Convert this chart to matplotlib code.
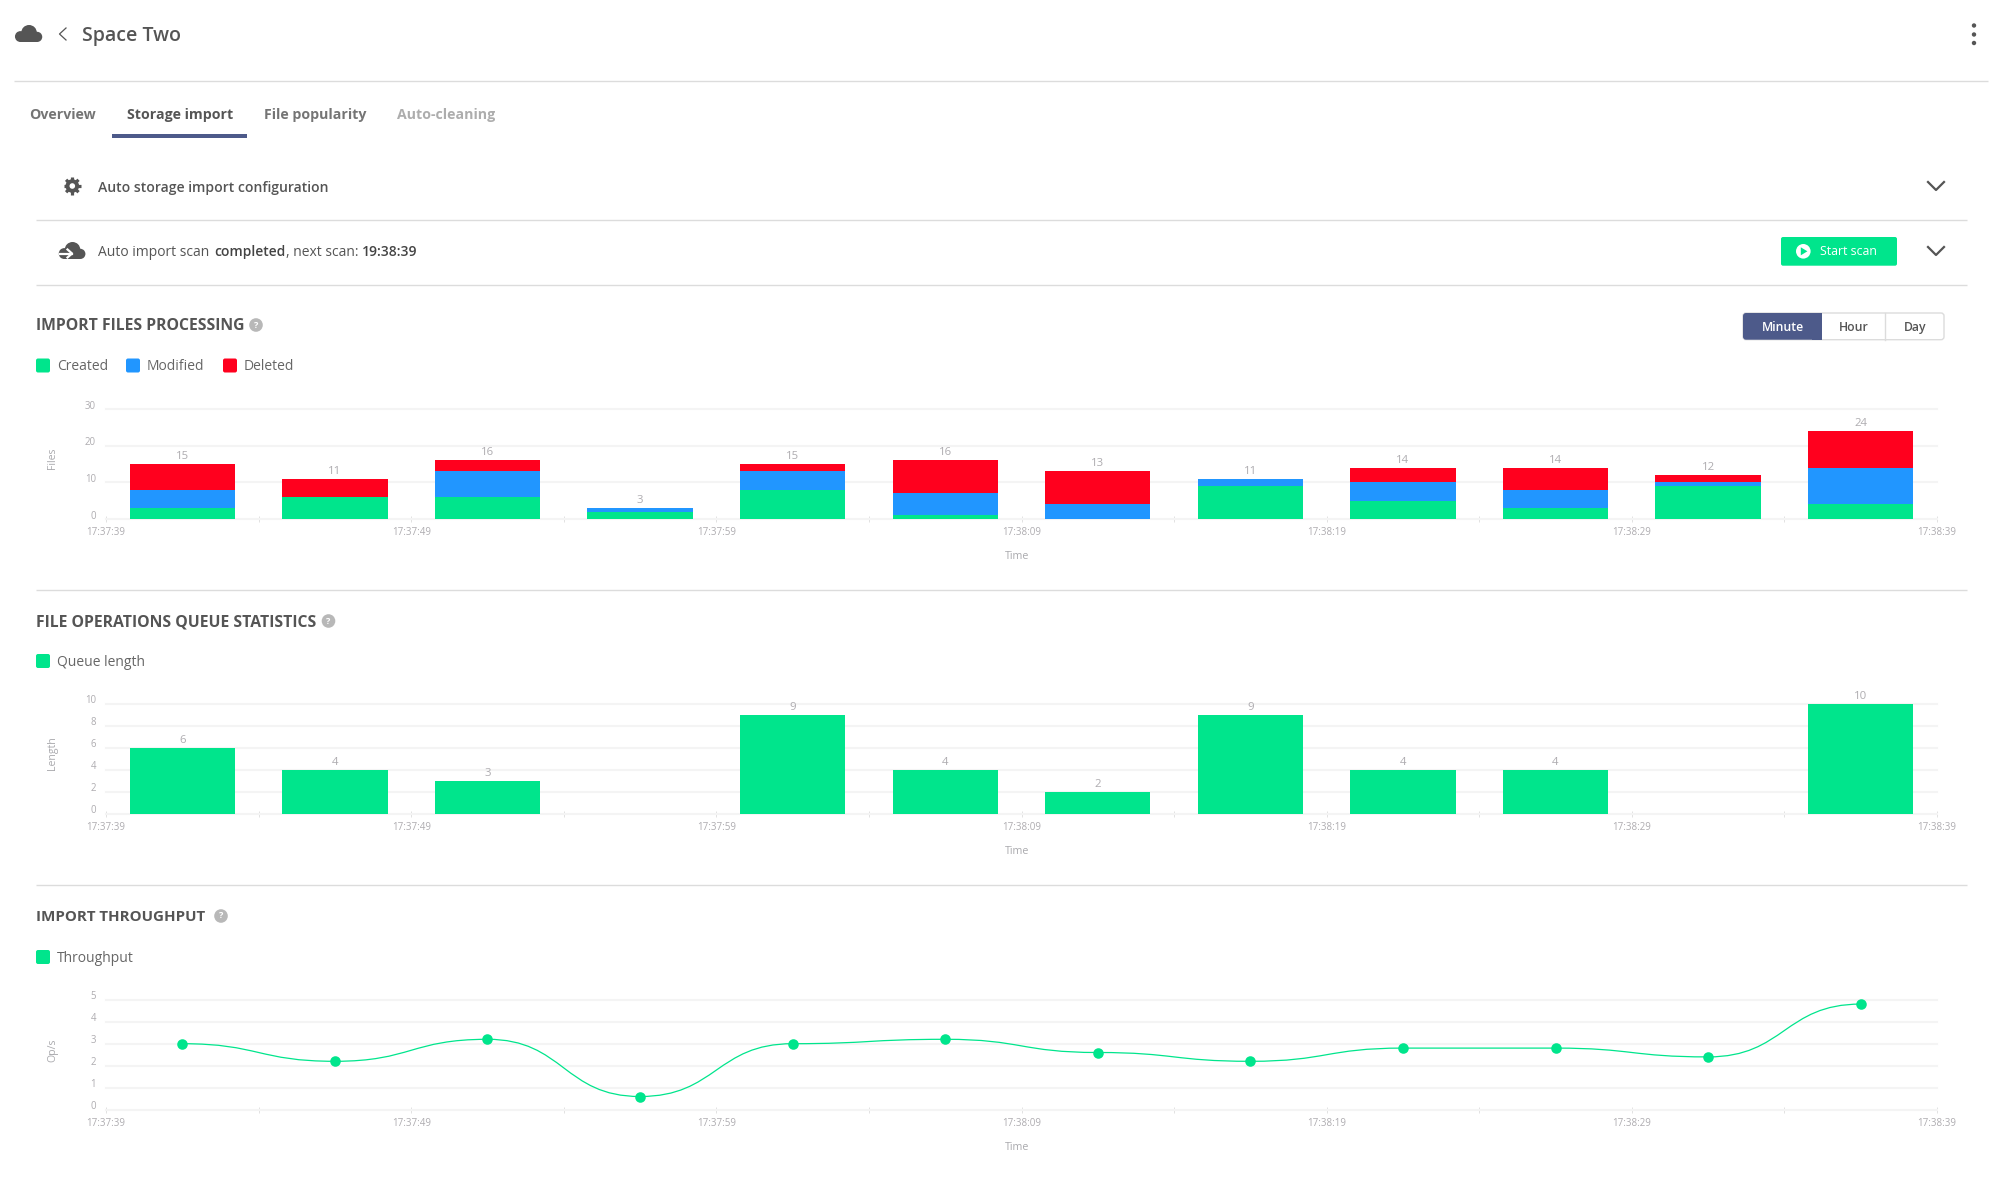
# -*- coding: utf-8 -*-
import numpy as np
import matplotlib
matplotlib.use("Agg")
import matplotlib.pyplot as plt
from matplotlib.patches import Circle, FancyBboxPatch, PathPatch, Polygon, Rectangle
from matplotlib.path import Path
from matplotlib.transforms import ScaledTranslation

plt.rcParams['font.family'] = ['Open Sans', 'DejaVu Sans']

W, H = 1998, 1189
GREEN, BLUE, RED = '#00e58c', '#2196ff', '#ff001e'
DARK = '#555555'
NAVY = '#4d5a8a'
LINE = '#dcdcdc'
GRID = '#f4f4f4'
SOFT = '#aeacb0'

# Values, one per 5 s bucket
created = [3, 6, 6, 2, 8, 1, 0, 9, 5, 3, 9, 4]
modified = [5, 0, 7, 1, 5, 6, 4, 2, 5, 5, 1, 10]
deleted = [7, 5, 3, 0, 2, 9, 9, 0, 4, 6, 2, 10]
queue = [6, 4, 3, 0, 9, 4, 2, 9, 4, 4, 0, 10]
throughput = [3.0, 2.2, 3.2, 0.6, 3.0, 3.2, 2.6, 2.2, 2.8, 2.8, 2.4, 4.8]

seconds = np.arange(2.5, 60, 5)
ticks = np.arange(0, 61, 5)
tick_labels = ['17:37:39', '', '17:37:49', '', '17:37:59', '', '17:38:09', '',
               '17:38:19', '', '17:38:29', '', '17:38:39']

fig = plt.figure(figsize=(W / 100, H / 100), dpi=100, facecolor='white')

# Page layer in pixel coordinates for everything around the charts
page = fig.add_axes([0, 0, 1, 1])
page.set_xlim(0, W)
page.set_ylim(H, 0)
page.axis('off')


def label(x, y, s, size=10, color=DARK, weight='normal', ha='left'):
    return page.text(x, y + 1.3, s, fontsize=size, color=color, fontweight=weight, ha=ha, va='center')


def hline(x0, x1, y):
    page.plot([x0, x1], [y, y], color=LINE, lw=1.0, solid_capstyle='butt')


def box(x0, y0, x1, y1, color, edge='none', r=2, z=2):
    page.add_patch(FancyBboxPatch((x0, y0), x1 - x0, y1 - y0, boxstyle='round,pad=0,rounding_size=%g' % r,
                                  fc=color, ec=edge, lw=1, zorder=z))


def cloud(x0, y0, w, h):
    # three blobs and a flat base
    for cx, cy, r in [(0.2, 0.68, 0.32), (0.52, 0.46, 0.46), (0.82, 0.7, 0.3)]:
        page.add_patch(Circle((x0 + cx * w, y0 + cy * h), r * h, fc=DARK, ec='none', zorder=2))
    page.add_patch(Rectangle((x0 + 0.2 * w, y0 + 0.6 * h), 0.62 * w, 0.4 * h, fc=DARK, ec='none', zorder=2))


def chevron_down(cx, y):
    page.plot([cx - 8, cx, cx + 8], [y - 4, y + 4, y - 4], color=DARK, lw=1.6)


def help_icon(x, y):
    page.add_patch(Circle((x, y), 6.8, fc='#b8b8b8', ec='none'))
    label(x, y - 1.3, '?', size=6.5, color='white', weight='bold', ha='center')


def legend(items, y):
    for x, color, name in items:
        box(x, y - 7, x + 14, y + 7, color, r=2)
        label(x + 21, y, name, size=10, color='#666666')


# Header
cloud(15, 25, 27, 17)
page.plot([66, 59.5, 66], [28, 34, 40], color=DARK, lw=0.9)
label(82, 35, 'Space Two', size=14, color=DARK, weight='semibold')
for y in [25.5, 34.5, 43]:
    page.add_patch(Circle((1974, y), 2.2, fc=DARK, ec='none'))
hline(14, 1988, 81.3)

# Tabs
label(29, 114, 'Overview', size=10.2, color='#757575', weight='bold')
label(127, 114, 'Storage import', size=10.2, color=DARK, weight='bold')
label(264, 114, 'File popularity', size=10.2, color='#757575', weight='bold')
label(397, 114, 'Auto-cleaning', size=10.2, color='#adadad', weight='bold')
page.add_patch(Rectangle((112, 134), 135, 4, fc=NAVY, ec='none'))

# Configuration row
page.add_patch(Circle((72.3, 186), 6.8, fc=DARK, ec='none'))
for a in np.arange(0, 2 * np.pi, np.pi / 4):
    page.plot([72.3 + 5 * np.cos(a), 72.3 + 8.8 * np.cos(a)], [186 + 5 * np.sin(a), 186 + 8.8 * np.sin(a)],
              color=DARK, lw=2.3, solid_capstyle='butt')
page.add_patch(Circle((72.3, 186), 2.8, fc='white', ec='none', zorder=3))
label(98, 186.5, 'Auto storage import configuration', size=10.1, color=DARK, weight='semibold')
chevron_down(1936, 186)
hline(36, 1967, 219.5)

# Scan row, the pieces share one baseline
cloud(59, 242, 26, 17)
page.plot([60, 72], [253.5, 253.5], color='white', lw=1.6, zorder=3)
page.plot([67.5, 72, 67.5], [249.5, 253.5, 257.5], color='white', lw=1.6, zorder=3)
for x, y, s, col, wgt in [(98, 256.5, 'Auto import scan', DARK, 'normal'),
                          (214, 255.6, 'completed', '#444444', 'semibold'),
                          (286, 256.5, ', next scan:', DARK, 'normal'),
                          (362, 256.5, '19:38:39', '#444444', 'semibold')]:
    page.text(x, y, s, fontsize=10, color=col, fontweight=wgt, ha='left', va='baseline')
box(1781, 237, 1897, 265.7, GREEN, r=2)
page.add_patch(Circle((1803.3, 251.3), 7.3, fc='white', ec='none', zorder=3))
page.add_patch(Polygon([(1800.8, 247.3), (1800.8, 255.3), (1807.4, 251.3)], fc=GREEN, ec='none', zorder=4))
label(1820, 250.5, 'Start scan', size=8.9, color='white', weight='medium').set_zorder(4)
chevron_down(1936, 251)
hline(36, 1967, 284.5)

# Section 1 header
label(36, 325, 'IMPORT FILES PROCESSING', size=11.3, color=DARK, weight='bold')
help_icon(256, 325)
box(1743, 313, 1944, 339.7, 'white', edge=LINE, r=3)
box(1743, 313, 1822, 339.7, NAVY, r=3, z=3)
page.add_patch(Rectangle((1812, 313), 10, 26.7, fc=NAVY, ec='none', zorder=3))
page.plot([1885.3, 1885.3], [313, 339.7], color=LINE, lw=1, zorder=3)
label(1783, 326, 'Minute', size=8.8, color='white', weight='semibold', ha='center').set_zorder(4)
label(1854, 326, 'Hour', size=8.8, color=DARK, weight='semibold', ha='center').set_zorder(4)
label(1915, 326, 'Day', size=8.8, color=DARK, weight='semibold', ha='center').set_zorder(4)
legend([(36, GREEN, 'Created'), (126, BLUE, 'Modified'), (223, RED, 'Deleted')], 365.5)
hline(36, 1967, 590)

# Section 2 header
label(36, 621, 'FILE OPERATIONS QUEUE STATISTICS', size=11.3, color=DARK, weight='bold')
help_icon(328.5, 621)
legend([(36, GREEN, 'Queue length')], 661)
hline(36, 1967, 885)

# Section 3 header
label(36, 916, 'IMPORT THROUGHPUT', size=10.9, color=DARK, weight='bold')
help_icon(221, 916)
legend([(36, GREEN, 'Throughput')], 957)


def make_chart(top, ymax, yticks, ylabel, ylabel_y):
    bottom = top + 110
    ax = fig.add_axes([106 / W, 1 - bottom / H, (1937 - 106) / W, 110 / H])
    ax.patch.set_alpha(0)
    ax.set_xlim(0, 60)
    ax.set_ylim(0, ymax)
    ax.set_xticks(ticks)
    ax.set_xticklabels(tick_labels, fontsize=7.0, color=SOFT)
    ax.set_yticks(yticks)
    ax.set_yticklabels([str(v) for v in yticks], fontsize=6.9, color=SOFT)
    ax.tick_params(axis='x', direction='inout', length=4.3, width=0.7, color='#e2e2e2', pad=3.6)
    ax.tick_params(axis='y', length=0, pad=7.2)
    # y labels sit slightly above their grid line
    shift = ScaledTranslation(0, 4.4 / 100, fig.dpi_scale_trans)
    for t in ax.get_yticklabels():
        t.set_transform(t.get_transform() + shift)
    for s in ax.spines.values():
        s.set_visible(False)
    ax.set_axisbelow(True)
    ax.grid(axis='y', color=GRID, lw=1.5)
    for g in ax.get_ygridlines():
        g.set_clip_on(False)
    ax.set_ylabel(ylabel, fontsize=7.6, color='#a9a9ad', va='center')
    ax.yaxis.set_label_coords((53 - 106) / 1831, (bottom - ylabel_y) / 110)
    ax.set_xlabel('Time', fontsize=7.7, color='#a9a9ad', va='center')
    ax.xaxis.set_label_coords((1017 - 106) / 1831, -37.3 / 110)
    return ax


def bar_totals(ax, totals):
    for x, t in zip(seconds, totals):
        if t > 0:
            ax.annotate(str(t), (x, t), xytext=(0, 5.4), textcoords='offset points', ha='center', va='center',
                        fontsize=8.2, color=SOFT)


# Import files processing
ax1 = make_chart(409, 30, [0, 10, 20, 30], 'Files', 458)
c, m, d = np.array(created), np.array(modified), np.array(deleted)
ax1.bar(seconds, c, width=3.45, color=GREEN)
ax1.bar(seconds, m, width=3.45, bottom=c, color=BLUE)
ax1.bar(seconds, d, width=3.45, bottom=c + m, color=RED)
bar_totals(ax1, c + m + d)

# Queue statistics
ax2 = make_chart(703.7, 10, [0, 2, 4, 6, 8, 10], 'Length', 753)
ax2.bar(seconds, queue, width=3.45, color=GREEN)
bar_totals(ax2, queue)

# Throughput, each segment leaves and reaches its points flat
ax3 = make_chart(999.7, 5, [0, 1, 2, 3, 4, 5], 'Op/s', 1050)
verts = [(seconds[0], throughput[0])]
codes = [Path.MOVETO]
for i in range(1, len(seconds)):
    mid = (seconds[i - 1] + seconds[i]) / 2
    verts += [(mid, throughput[i - 1]), (mid, throughput[i]), (seconds[i], throughput[i])]
    codes += [Path.CURVE4, Path.CURVE4, Path.CURVE4]
ax3.add_patch(PathPatch(Path(verts, codes), fc='none', ec=GREEN, lw=0.9))
ax3.plot(seconds, throughput, 'o', color=GREEN, ms=7.6, mec='none', clip_on=False)

fig.savefig('out.png', dpi=100)
